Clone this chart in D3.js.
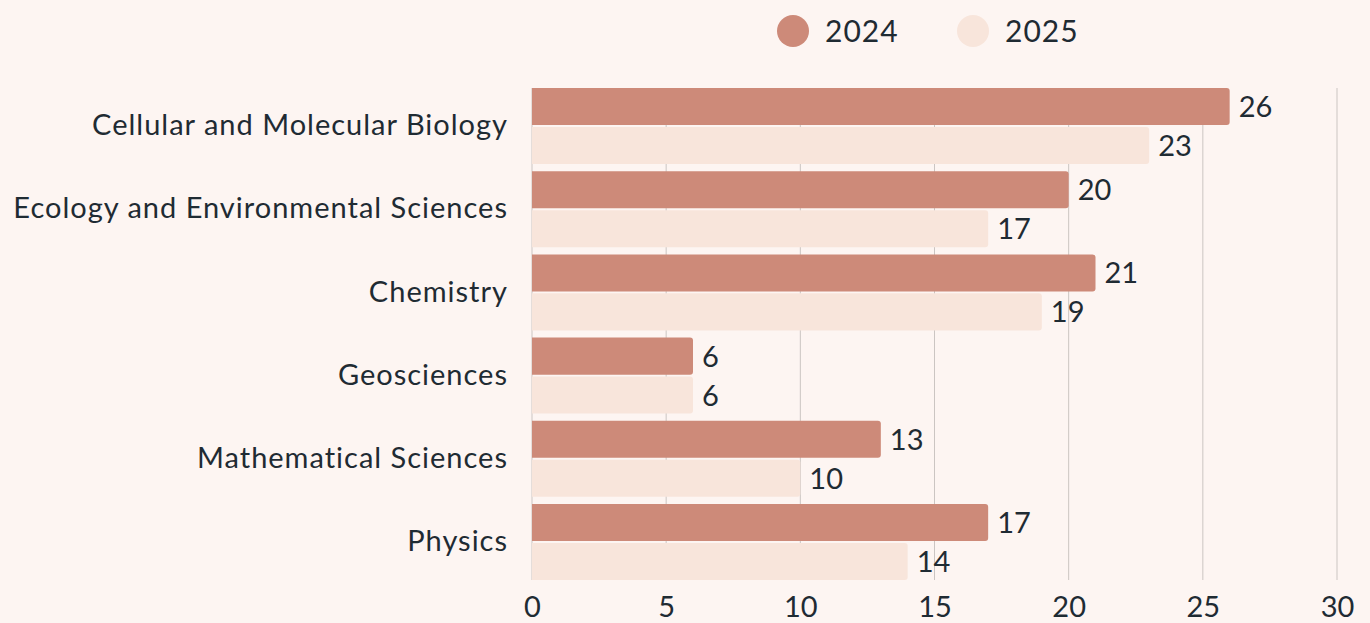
<!DOCTYPE html>
<html><head><meta charset="utf-8">
<script src="https://cdn.jsdelivr.net/npm/d3@7"></script>
<style>
html,body{margin:0;padding:0;background:#fdf5f2;}
svg{display:block;font-family:Lato, "Open Sans", sans-serif;}
</style></head>
<body><svg id="c" width="1370" height="623"></svg>
<script>
const categories = ["Cellular and Molecular Biology","Ecology and Environmental Sciences","Chemistry","Geosciences","Mathematical Sciences","Physics"];
const seriesNames = ["2024","2025"];
const values2024 = [26,20,21,6,13,17];
const values2025 = [23,17,19,6,10,14];
const xTicks = [0,5,10,15,20,25,30];
const colors = ["#cd8a79","#f8e5db"];

(function(){
const svg = d3.select("#c");
const textColor = "#1f2b33";
const x = d3.scaleLinear().domain([0,30]).range([532,1337]);
const y = d3.scaleBand().domain(categories).range([84,584]).paddingInner(0.0865).paddingOuter(0.048);
const ySub = d3.scaleBand().domain(seriesNames).range([0,y.bandwidth()]).paddingInner(0.05);
const plotTop = y(categories[0]), plotBottom = y(categories[categories.length-1]) + y.bandwidth();

svg.append("g").selectAll("line").data(xTicks).join("line")
  .attr("x1",d=>x(d)).attr("x2",d=>x(d)).attr("y1",plotTop).attr("y2",plotBottom)
  .attr("stroke","#cbc5c2").attr("stroke-width",1);

const xAxis = d3.axisBottom(x).tickValues(xTicks).tickSize(0).tickPadding(0);
const gx = svg.append("g").attr("transform",`translate(0,${plotBottom+17})`).call(xAxis);
gx.select(".domain").remove();
gx.selectAll("text").attr("font-size",29).attr("fill",textColor).attr("font-family","Lato, sans-serif").attr("dy","0.7em");

const yAxis = d3.axisLeft(y).tickSize(0).tickPadding(24);
const gy = svg.append("g").attr("transform",`translate(${x(0)},0)`).call(yAxis);
gy.select(".domain").remove();
gy.selectAll("text").attr("font-size",29).attr("letter-spacing","1px").attr("fill",textColor).attr("font-family","Lato, sans-serif");

function barPath(x0,x1,y0,h,r){
  r = Math.min(r,(x1-x0),h/2);
  return `M${x0},${y0}H${x1-r}Q${x1},${y0} ${x1},${y0+r}V${y0+h-r}Q${x1},${y0+h} ${x1-r},${y0+h}H${x0}Z`;
}

const rows = categories.map((c,i)=>({c, vals:[values2024[i],values2025[i]]}));
const g = svg.append("g");
rows.forEach(r=>{
  r.vals.forEach((v,j)=>{
    const s = seriesNames[j];
    const y0 = y(r.c)+ySub(s);
    g.append("path").attr("d",barPath(x(0),x(v),y0,ySub.bandwidth(),3)).attr("fill",colors[j]);
    g.append("text").attr("x",x(v)+9).attr("y",y0+ySub.bandwidth()/2).attr("dy","0.36em")
      .attr("font-size",29).attr("fill",textColor).text(v);
  });
});

const leg = svg.append("g");
const legX = [793,973];
seriesNames.forEach((s,i)=>{
  leg.append("circle").attr("cx",legX[i]).attr("cy",31).attr("r",16).attr("fill",colors[i]);
  leg.append("text").attr("x",legX[i]+32).attr("y",31).attr("dy","0.36em").attr("font-size",30).attr("letter-spacing","1px").attr("fill",textColor).text(s);
});
})();
</script></body></html>
